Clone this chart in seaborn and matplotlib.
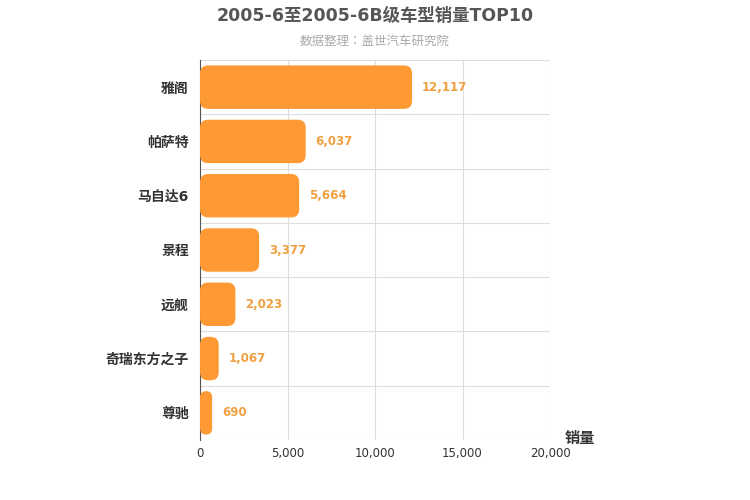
import matplotlib
matplotlib.use("Agg")
import matplotlib.pyplot as plt
import seaborn as sns
import pandas as pd
from matplotlib.patches import FancyBboxPatch

models = ["雅阁", "帕萨特", "马自达6", "景程", "远舰", "奇瑞东方之子", "尊驰"]
sales = [12117, 6037, 5664, 3377, 2023, 1067, 690]
xticks = [0, 5000, 10000, 15000, 20000]

plt.rcParams["font.family"] = ["DejaVu Sans", "Noto Sans CJK SC", "Noto Sans CJK JP",
                               "Noto Sans CJK TC", "Noto Sans CJK KR"]
df = pd.DataFrame({"model": models, "sales": sales})
fig = plt.figure(figsize=(7.5, 5), dpi=100)
ax = fig.add_axes([0.2667, 0.12, 0.4667, 0.76])
sns.barplot(data=df, y="model", x="sales", color="#ff9933", width=0.8, ax=ax, zorder=3)
ax.set_xlim(0, 20000)
ax.set_ylim(len(models) - 0.5, -0.5)

xpp = 20000 / 350.0
ypp = len(models) / 380.0
for p in list(ax.patches):
    x, y, w, h = p.get_x(), p.get_y(), p.get_width(), p.get_height()
    r = min(8 * xpp, w / 2)
    fb = FancyBboxPatch((x, y), w, h, boxstyle=f"round,pad=0,rounding_size={r}",
                        mutation_aspect=ypp / xpp, facecolor="#ff9933", edgecolor="none", zorder=3)
    p.remove()
    ax.add_patch(fb)
for i, v in enumerate(sales):
    ax.text(v + 10 * xpp, i, f"{v:,}", va="center", ha="left", fontsize=8.5,
            color="#f0a040", fontweight="bold", zorder=4)

ax.set_xticks(xticks)
ax.set_xticklabels([f"{t:,}" for t in xticks], fontsize=8.5, color="#333333")
ax.set_yticks(range(len(models)))
ax.set_yticklabels(models, fontsize=10, fontweight="bold", color="#333333")
ax.tick_params(axis="y", length=0, pad=8)
ax.tick_params(axis="x", length=0, pad=5)
for t in xticks:
    ax.axvline(t, color="#dddddd", lw=0.8, zorder=1)
for k in range(len(models) + 1):
    ax.axhline(k - 0.5, color="#dddddd", lw=0.8, zorder=1)
for s in ["top", "right", "bottom"]:
    ax.spines[s].set_visible(False)
ax.spines["left"].set_color("#555555")
ax.set_xlabel("")
ax.set_ylabel("")
fig.text(0.753, 0.122, "销量", fontsize=11, fontweight="bold", color="#333333", ha="left", va="center")
fig.text(0.5, 0.968, "2005-6至2005-6B级车型销量TOP10", fontsize=12.5, fontweight="bold",
         color="#555555", ha="center", va="center")
fig.text(0.5, 0.918, "数据整理：盖世汽车研究院", fontsize=9, color="#aaaaaa", ha="center", va="center")
fig.savefig("out.png", dpi=100)
